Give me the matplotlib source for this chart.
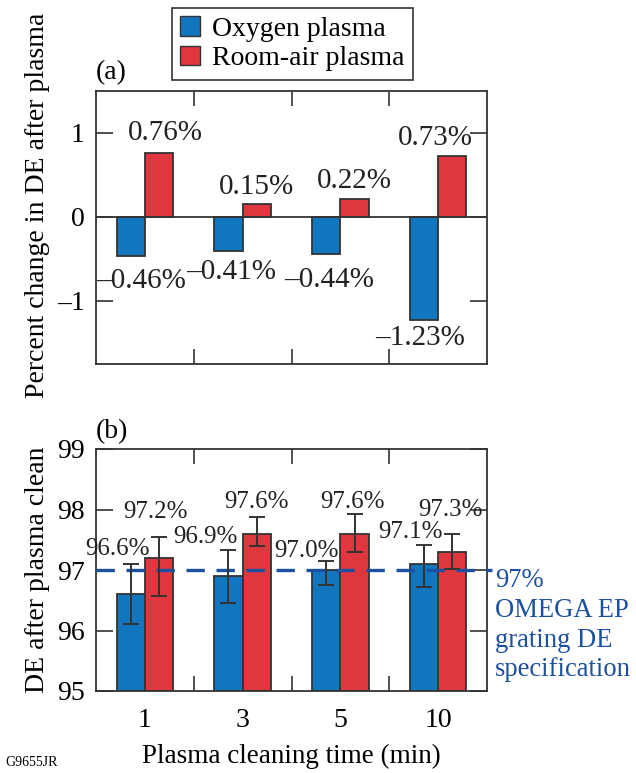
import numpy as np
import matplotlib.pyplot as plt
from matplotlib.patches import Patch
from matplotlib.ticker import FixedLocator

plt.rcParams['font.family'] = ['Liberation Serif', 'DejaVu Serif']
plt.rcParams['font.size'] = 20

# cleaning times (min)
times = ['1', '3', '5', '10']

# (a) percent change in diffraction efficiency after plasma
change_oxygen = [-0.46, -0.41, -0.44, -1.23]
change_air = [0.76, 0.15, 0.22, 0.73]

# (b) diffraction efficiency after plasma clean (%)
de_oxygen = [96.6, 96.9, 97.0, 97.1]
de_oxygen_lo = [0.50, 0.44, 0.25, 0.38]
de_oxygen_hi = [0.50, 0.43, 0.15, 0.31]
de_air = [97.2, 97.6, 97.6, 97.3]
de_air_lo = [0.63, 0.20, 0.31, 0.28]
de_air_hi = [0.35, 0.27, 0.32, 0.29]
spec_de = 97.0

BLUE = '#1276bf'
RED = '#e0373f'
EDGE = '#333333'
SPEC = '#1d50a0'

W, H = 636, 773
fig = plt.figure(figsize=(W / 100, H / 100), dpi=100)
ax1 = fig.add_axes([96 / W, 1 - 364 / H, 391 / W, 273 / H])
ax2 = fig.add_axes([96 / W, 1 - 691 / H, 391 / W, 242 / H])

x = np.arange(len(times))
w = 0.29


def style_axes(ax):
    for s in ax.spines.values():
        s.set_color(EDGE)
        s.set_linewidth(1.3)
    ax.set_xlim(-0.5, len(times) - 0.5)
    ax.xaxis.set_minor_locator(FixedLocator(x[:-1] + 0.5))
    ax.tick_params(which='minor', axis='x', direction='in', length=11,
                   width=1.2, color=EDGE, top=True, bottom=True)
    ax.tick_params(axis='y', direction='in', length=12, width=1.2,
                   color=EDGE, left=True, right=True, pad=8)
    ax.tick_params(axis='x', which='major', length=0, pad=12)


# ---- panel (a) ----
ax1.bar(x - w, change_oxygen, w, align='edge', color=BLUE, edgecolor=EDGE, linewidth=1.3, zorder=2)
ax1.bar(x, change_air, w, align='edge', color=RED, edgecolor=EDGE, linewidth=1.3, zorder=2)
ax1.axhline(0, color=EDGE, linewidth=1.3, zorder=3)
ax1.set_ylim(-1.75, 1.5)
ax1.set_yticks([-1, 0, 1])
ax1.set_yticklabels(['\u20131', '0', '1'])
ax1.set_xticks(x)
ax1.set_xticklabels([])
style_axes(ax1)
ax1.set_ylabel('Percent change in DE after plasma')
ax1.yaxis.set_label_coords(-0.118, 0.582)

neg_off = [(10, -25), (3, -21), (3, -26), (-4, -18)]
pos_off = [(6, 20), (0, 17), (0, 18), (-17, 18)]
for i in range(len(times)):
    ax1.annotate(f'\u2013{abs(change_oxygen[i]):.2f}%', (x[i] - w / 2, change_oxygen[i]),
                 xytext=neg_off[i], textcoords='offset pixels', fontsize=21,
                 ha='center', va='center', color='#222222')
    ax1.annotate(f'{change_air[i]:.2f}%', (x[i] + w / 2, change_air[i]),
                 xytext=pos_off[i], textcoords='offset pixels', fontsize=21,
                 ha='center', va='center', color='#222222')
ax1.text(0.0, 1.02, '(a)', transform=ax1.transAxes, ha='left', va='bottom')

# ---- panel (b) ----
ax2.bar(x - w, np.array(de_oxygen) - 95, w, bottom=95, align='edge',
        color=BLUE, edgecolor=EDGE, linewidth=1.3, zorder=2)
ax2.bar(x, np.array(de_air) - 95, w, bottom=95, align='edge',
        color=RED, edgecolor=EDGE, linewidth=1.3, zorder=2)
ax2.errorbar(x - w / 2, de_oxygen, yerr=[de_oxygen_lo, de_oxygen_hi], fmt='none',
             ecolor=EDGE, elinewidth=1.4, capsize=5.5, capthick=1.4, zorder=4)
ax2.errorbar(x + w / 2, de_air, yerr=[de_air_lo, de_air_hi], fmt='none',
             ecolor=EDGE, elinewidth=1.4, capsize=5.5, capthick=1.4, zorder=4)
ax2.set_ylim(95, 99)
ax2.set_yticks([95, 96, 97, 98, 99])
ax2.set_xticks(x)
ax2.set_xticklabels(times)
style_axes(ax2)
ax2.set_ylabel('DE after plasma clean')
ax2.yaxis.set_label_coords(-0.118, 0.5)
ax2.set_xlabel('Plasma cleaning time (min)', labelpad=8, fontsize=19.5)

# spec line runs past the right frame into the note
ax2.plot([-0.5, 3.55], [spec_de, spec_de], color=SPEC, linewidth=2.4,
         linestyle=(0, (5.5, 3.5)), clip_on=False, zorder=3)
ax2.text(3.58, spec_de + 0.03, '97%\nOMEGA EP\ngrating DE\nspecification', color=SPEC,
         ha='left', va='top', linespacing=1.25, transform=ax2.transData, fontsize=19.2)

blue_off = [(-13, 15), (-23, 13), (-20, 10), (-13, 13)]
red_off = [(-4, 25), (0, 15), (-2, 12), (-2, 24)]
for i in range(len(times)):
    ax2.annotate(f'{de_oxygen[i]:.1f}%', (x[i] - w / 2, de_oxygen[i] + de_oxygen_hi[i]),
                 xytext=blue_off[i], textcoords='offset pixels', fontsize=18,
                 ha='center', va='center', color='#222222', zorder=5)
    ax2.annotate(f'{de_air[i]:.1f}%', (x[i] + w / 2, de_air[i] + de_air_hi[i]),
                 xytext=red_off[i], textcoords='offset pixels', fontsize=18,
                 ha='center', va='center', color='#222222', zorder=5)
ax2.text(0.0, 1.02, '(b)', transform=ax2.transAxes, ha='left', va='bottom')

# legend box above panel (a)
handles = [Patch(facecolor=BLUE, edgecolor=EDGE, label='Oxygen plasma'),
           Patch(facecolor=RED, edgecolor=EDGE, label='Room-air plasma')]
leg = fig.legend(handles=handles, loc='upper left', bbox_to_anchor=(172 / W, 1 - 8 / H),
                 fancybox=False, edgecolor=EDGE, framealpha=1, fontsize=20,
                 handlelength=0.7, handleheight=0.7, handletextpad=0.45,
                 borderpad=0.3, labelspacing=0.15, borderaxespad=0)
leg.get_frame().set_linewidth(1.2)

fig.text(5 / W, 1 - 762 / H, 'G9655JR', fontsize=10, ha='left', va='center')

fig.savefig('out.png', dpi=100)
